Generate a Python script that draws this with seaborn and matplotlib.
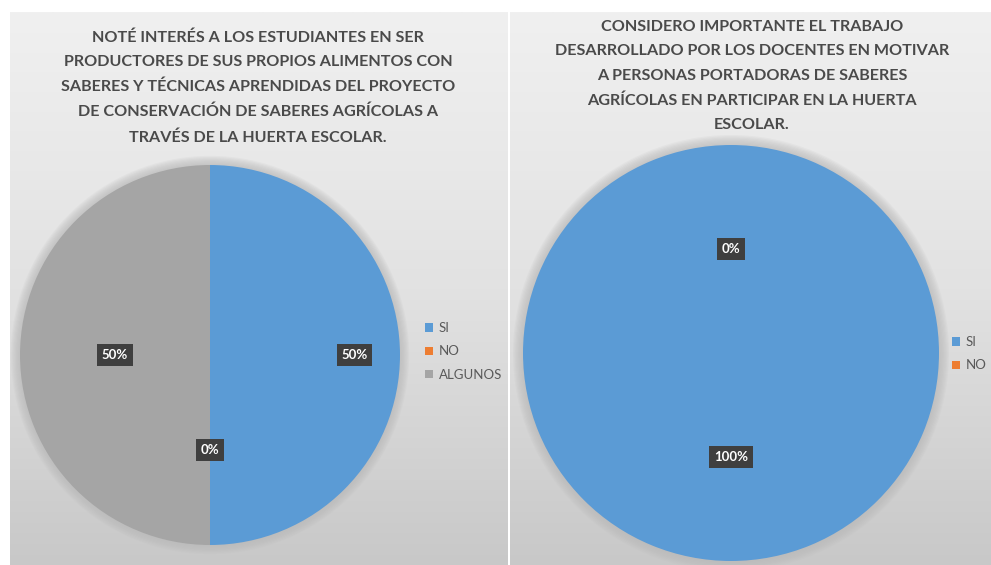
import numpy as np
import matplotlib.pyplot as plt
import seaborn as sns

# data
left_title = ("NOTÉ INTERÉS A LOS ESTUDIANTES EN SER\n"
              "PRODUCTORES DE SUS PROPIOS ALIMENTOS CON\n"
              "SABERES Y TÉCNICAS APRENDIDAS DEL PROYECTO\n"
              "DE CONSERVACIÓN DE SABERES AGRÍCOLAS A\n"
              "TRAVÉS DE LA HUERTA ESCOLAR.")
left_labels = ["SI", "NO", "ALGUNOS"]
left_values = [50, 0, 50]

right_title = ("CONSIDERO IMPORTANTE EL TRABAJO\n"
               "DESARROLLADO POR LOS DOCENTES EN MOTIVAR\n"
               "A PERSONAS PORTADORAS DE SABERES\n"
               "AGRÍCOLAS EN PARTICIPAR EN LA HUERTA\n"
               "ESCOLAR.")
right_labels = ["SI", "NO"]
right_values = [100, 0]

sns.set_style("white")
plt.rcParams["font.family"] = ["Lato", "DejaVu Sans"]
colors = sns.color_palette(["#5B9BD5", "#ED7D31", "#A5A5A5"])

W, H = 991, 565
fig = plt.figure(figsize=(W / 100, H / 100), dpi=100)
fig.patch.set_facecolor("white")


def px_axes(x0, y0, x1, y1, **kw):
    # pixel box (top-left origin) -> figure axes
    return fig.add_axes([x0 / W, 1 - y1 / H, (x1 - x0) / W, (y1 - y0) / H], **kw)


# panel backgrounds with vertical gradient
grad = np.linspace(0, 1, 256).reshape(-1, 1)
cmap = sns.blend_palette(["#f0f0f0", "#e2e2e2", "#c8c8c8"], as_cmap=True)
for x0, x1 in [(10, 508), (510, 1000)]:
    bg = px_axes(x0, 12, x1, 566)
    bg.imshow(grad, aspect="auto", cmap=cmap, extent=[0, 1, 0, 1], origin="upper")
    bg.set_axis_off()


def draw_pie(cx, cy, r, values, labels, dists, title, tx, ty, legx, legy):
    pad = 1.08
    ax = px_axes(cx - r * pad, cy - r * pad, cx + r * pad, cy + r * pad)
    # soft glow behind the pie
    for k in range(8):
        ax.add_patch(plt.Circle((0, 0.0), 1 + 0.006 * (k + 1), color="#b8b8b8",
                                alpha=0.12, lw=0, zorder=0))
    wedges, _ = ax.pie(values, colors=colors[:len(values)], startangle=90,
                       counterclock=False, radius=1,
                       wedgeprops=dict(linewidth=0))
    ax.set_xlim(-pad, pad)
    ax.set_ylim(-pad, pad)
    ax.set_aspect("equal")
    ax.set_axis_off()
    tot = sum(values)
    for w, v, d in zip(wedges, values, dists):
        ang = np.deg2rad((w.theta1 + w.theta2) / 2)
        ax.text(d * np.cos(ang), d * np.sin(ang), f"{v / tot:.0%}",
                ha="center", va="center", color="white", fontsize=9.5,
                fontweight="bold",
                bbox=dict(boxstyle="square,pad=0.35", fc="#3f3f3f", ec="none"))
    fig.text(tx / W, 1 - ty / H, title, ha="center", va="top", fontsize=11.6,
             fontweight="bold", color="#4a4a4a", linespacing=1.94)
    fig.legend(wedges, labels, loc="upper left",
               bbox_to_anchor=(legx / W, 1 - legy / H), frameon=False,
               fontsize=9.5, labelcolor="#595959", handlelength=0.6,
               handleheight=0.6, handletextpad=0.4, labelspacing=0.85,
               borderaxespad=0)


draw_pie(210, 355, 190, left_values, left_labels, [0.76, 0.5, 0.5],
         left_title, 258, 30, 420, 317)
draw_pie(731, 353, 208, right_values, right_labels, [0.5, 0.5],
         right_title, 752, 20, 947, 331)

fig.savefig("out.png", dpi=100)
